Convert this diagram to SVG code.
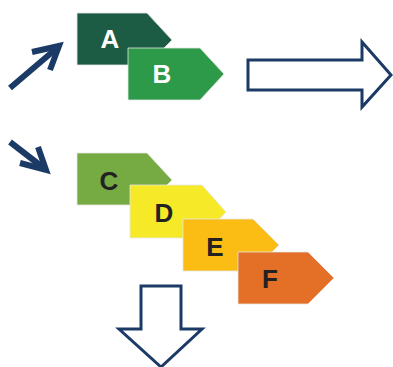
<svg xmlns="http://www.w3.org/2000/svg" width="393" height="367" viewBox="0 0 393 367">
<style>
.tag{stroke:#e6e6e6;stroke-width:0.8}
.lbl{font-family:"Liberation Sans",Arial,sans-serif;font-weight:bold;font-size:26px;text-anchor:middle}
.big{fill:#fff;stroke:#1b3a66;stroke-width:3;stroke-linejoin:miter}
.small{fill:none;stroke:#1b3a66;stroke-width:6;stroke-linecap:butt;stroke-linejoin:miter}
</style>
<rect width="393" height="367" fill="#fff"/>
<g id="A"><path class="tag" d="M77,13 H147 L172,40 L147,65 H77 Z" fill="#1d5c44"/><text class="lbl" x="110" y="48" fill="#fff">A</text></g>
<g id="B"><path class="tag" d="M128,48 H200 L224,74 L200,100 H128 Z" fill="#2c9a48"/><text class="lbl" x="162" y="83" fill="#fff">B</text></g>
<g id="C"><path class="tag" d="M77,153 H147 L172,180 L147,205 H77 Z" fill="#76ab43"/><text class="lbl" x="109" y="190" fill="#222">C</text></g>
<g id="D"><path class="tag" d="M130,185 H202 L226,212 L202,238 H130 Z" fill="#f6e928"/><text class="lbl" x="164" y="222" fill="#222">D</text></g>
<g id="E"><path class="tag" d="M183,219 H253 L279,245 L253,271 H183 Z" fill="#fbbd13"/><text class="lbl" x="215" y="256" fill="#222">E</text></g>
<g id="F"><path class="tag" d="M238,252 H308 L334,278 L308,304 H238 Z" fill="#e46f26"/><text class="lbl" x="270" y="288" fill="#222">F</text></g>
<g id="connectors">
<path class="small" d="M10,88 L57,48"/>
<path class="small" d="M32,52 L59,46 L50,70"/>
<path class="small" d="M10,142 L45,169"/>
<path class="small" d="M38,147 L46,170 L20,163"/>
<path class="big" d="M248,60 H362 V42 L391,75 L362,107 V90 H248 Z"/>
<path class="big" d="M141,286 H181 V329 H202 L161,367 L119,329 H141 Z"/>
</g>
</svg>
